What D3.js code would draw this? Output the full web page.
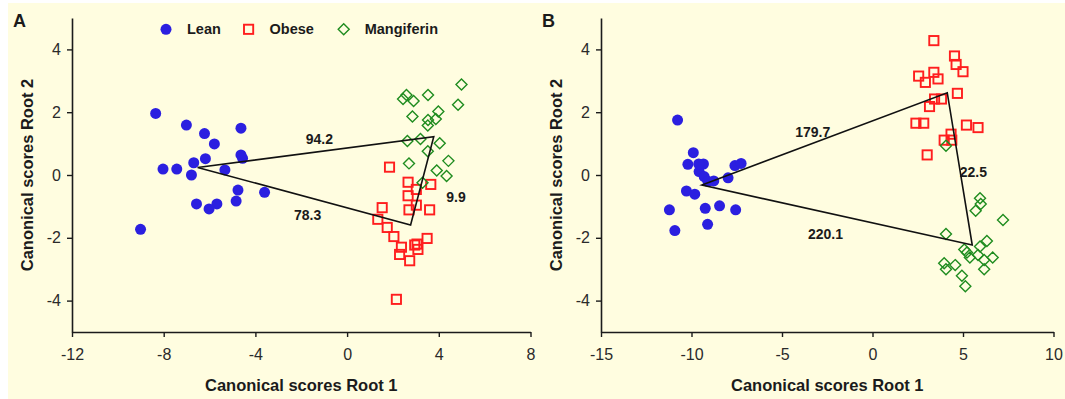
<!DOCTYPE html>
<html>
<head>
<meta charset="utf-8">
<script src="https://cdn.jsdelivr.net/npm/d3@7"></script>
<style>
  body { margin:0; background:#fff; }
  svg text { font-family:"Liberation Sans", Arial, sans-serif; }
</style>
</head>
<body>
<div id="graphique"></div>
<script>
// canonical scores: [root1, root2]
var leanA=[[-8.35,1.96],[-7.01,1.59],[-6.22,1.32],[-5.79,0.99],[-4.63,1.49],[-4.63,0.64],[-4.56,0.53],
  [-6.18,0.52],[-6.69,0.39],[-8.03,0.19],[-7.43,0.19],[-6.79,0.0],[-5.33,0.16],[-4.76,-0.48],[-3.60,-0.55],
  [-4.84,-0.83],[-6.57,-0.92],[-5.68,-0.92],[-6.02,-1.08],[-9.01,-1.73]];
var obeseA=[[1.85,0.25],[2.66,-0.23],[3.65,-0.30],[3.02,-0.46],[2.66,-0.66],[3.02,-0.96],[2.70,-1.11],
  [3.60,-1.11],[1.53,-1.04],[1.34,-1.41],[1.75,-1.67],[2.04,-1.96],[2.37,-2.30],[2.29,-2.53],[2.73,-2.73],
  [2.95,-2.23],[3.09,-2.37],[3.49,-2.02],[2.15,-3.96],[3.05,-2.20]];
var mangA=[[4.99,2.88],[4.84,2.24],[2.59,2.55],[2.44,2.42],[2.90,2.36],[3.53,2.55],[2.85,1.86],[3.98,2.02],
  [3.53,1.75],[3.87,1.78],[3.52,1.58],[2.63,1.08],[3.20,1.15],[4.04,1.01],[3.52,0.76],[4.42,0.45],
  [2.70,0.37],[3.91,0.14],[4.34,-0.03],[3.29,-0.25]];
var centA=[[-6.52,0.24],[2.77,-1.59],[3.78,1.22]];   // lean, obese, mangiferin
var distA=["94.2","78.3","9.9"];
var distPosA=[[-1.21,1.15],[-1.72,-1.27],[4.75,-0.69]];

var leanB=[[-10.77,1.75],[-9.90,0.71],[-10.20,0.34],[-9.34,0.35],[-9.58,0.11],[-9.30,-0.05],[-8.77,-0.19],
  [-7.98,-0.09],[-7.60,0.30],[-7.26,0.37],[-10.28,-0.51],[-9.82,-0.61],[-11.22,-1.11],[-9.24,-1.06],
  [-8.45,-0.98],[-7.56,-1.11],[-9.11,-1.57],[-10.92,-1.77],[-9.60,0.35],[-9.10,-0.20]];
var obeseB=[[3.39,4.28],[4.53,3.79],[4.62,3.52],[5.00,3.29],[2.55,3.15],[3.39,3.27],[2.92,2.95],[3.62,3.06],
  [4.69,2.60],[3.43,2.42],[3.81,2.42],[3.15,2.18],[2.40,1.65],[2.83,1.65],[5.19,1.59],[5.83,1.51],
  [4.34,1.30],[3.96,1.11],[4.38,1.11],[3.02,0.64]];
var mangB=[[4.06,0.93],[5.94,-0.74],[5.98,-0.92],[5.70,-1.14],[7.21,-1.43],[4.06,-1.88],[6.32,-2.10],
  [5.94,-2.28],[5.07,-2.37],[5.38,-2.63],[5.83,-2.55],[6.17,-2.71],[6.64,-2.63],[4.57,-2.87],[3.96,-2.81],
  [4.06,-3.00],[6.17,-3.00],[4.94,-3.21],[5.13,-3.54],[5.22,-2.47]];
var centB=[[-9.42,-0.32],[4.13,2.62],[5.51,-2.23]];  // lean, obese, mangiferin
var distB=["179.7","22.5","220.1"];
var distPosB=[[-3.30,1.38],[5.57,0.11],[-2.60,-1.88]];

var xTicksA=[-12,-8,-4,0,4,8];
var xTicksB=[-15,-10,-5,0,5,10];
var yTicks=[-4,-2,0,2,4];
var groups=["Lean","Obese","Mangiferin"];

var width=1065, height=399;
var blue="#2b1fe0", red="#ff1e1e", green="#1f8c1f", ink="#1b1b1b";

var svg=d3.select("#graphique").append("svg")
    .attr("width",width).attr("height",height);
svg.append("rect").attr("x",8).attr("y",3)
    .attr("width",width-8).attr("height",height-3).attr("fill","#fffde0");

function diamond(s){
    return "M0,"+(-s)+" L"+s+",0 L0,"+s+" L"+(-s)+",0 Z";
}

function drawMarks(g,x,y,lean,obese,mang){
    g.selectAll(".lean").data(lean).enter().append("circle")
        .attr("cx",d=>x(d[0])).attr("cy",d=>y(d[1])).attr("r",5.5)
        .attr("fill",blue);
    g.selectAll(".obese").data(obese).enter().append("rect")
        .attr("x",d=>x(d[0])-4.6).attr("y",d=>y(d[1])-4.6)
        .attr("width",9.2).attr("height",9.2)
        .attr("fill","none").attr("stroke",red).attr("stroke-width",1.9);
    g.selectAll(".mang").data(mang).enter().append("path")
        .attr("transform",d=>"translate("+x(d[0])+","+y(d[1])+")")
        .attr("d",diamond(5.5))
        .attr("fill","none").attr("stroke",green).attr("stroke-width",1.4);
}

var plain=d=>String(d);   // hyphen minus like the original

function drawPanel(cfg){
    var x=d3.scaleLinear().domain(cfg.xDomain).range(cfg.xRange);
    var y=d3.scaleLinear().domain([-5,5]).range([332,18]);
    var g=svg.append("g");

    var xa=g.append("g").attr("transform","translate(0,"+y(-5)+")")
        .call(d3.axisBottom(x).tickValues(cfg.xTicks).tickFormat(plain)
            .tickSize(5).tickSizeOuter(0).tickPadding(12));
    var ya=g.append("g").attr("transform","translate("+x(cfg.xDomain[0])+",0)")
        .call(d3.axisLeft(y).tickValues(yTicks).tickFormat(plain)
            .tickSize(5).tickSizeOuter(0).tickPadding(6));
    [xa,ya].forEach(function(a){
        a.select(".domain").attr("stroke",ink).attr("stroke-width",1.6);
        a.selectAll(".tick line").attr("stroke",ink).attr("stroke-width",1.4);
        a.selectAll(".tick text").attr("fill","#2a2a2a").attr("font-size",16)
            .attr("font-family","'Liberation Sans', Arial, sans-serif");
    });

    g.append("text").attr("x",(cfg.xRange[0]+cfg.xRange[1])/2).attr("y",391)
        .attr("text-anchor","middle").attr("font-size",16.5).attr("font-weight","bold")
        .attr("fill",ink).text("Canonical scores Root 1");
    g.append("text")
        .attr("transform","translate("+(cfg.xRange[0]-39)+","+y(0)+") rotate(-90)")
        .attr("text-anchor","middle").attr("font-size",16.5).attr("font-weight","bold")
        .attr("fill",ink).text("Canonical scores Root 2");
    g.append("text").attr("x",cfg.xRange[0]-59).attr("y",27)
        .attr("font-size",18).attr("font-weight","bold").attr("fill",ink).text(cfg.label);

    drawMarks(g,x,y,cfg.lean,cfg.obese,cfg.mang);

    // triangle between group centroids
    g.append("path")
        .attr("d",d3.line().x(d=>x(d[0])).y(d=>y(d[1]))(cfg.cent)+"Z")
        .attr("fill","none").attr("stroke","#111").attr("stroke-width",1.6)
        .attr("stroke-linejoin","miter");
    g.selectAll(".dist").data(cfg.dist).enter().append("text")
        .attr("x",(d,i)=>x(cfg.distPos[i][0])).attr("y",(d,i)=>y(cfg.distPos[i][1])+5)
        .attr("text-anchor","middle").attr("font-size",14).attr("font-weight","bold")
        .attr("fill",ink).text(d=>d);
    return g;
}

drawPanel({label:"A",xDomain:[-12,8],xRange:[72,530.5],xTicks:xTicksA,
    lean:leanA,obese:obeseA,mang:mangA,cent:centA,dist:distA,distPos:distPosA});
drawPanel({label:"B",xDomain:[-15,10],xRange:[601,1053.5],xTicks:xTicksB,
    lean:leanB,obese:obeseB,mang:mangB,cent:centB,dist:distB,distPos:distPosB});

// legend (panel A only)
var legX=[166,248.6,343.7], legY=29.3;
var leg=svg.append("g");
leg.append("circle").attr("cx",legX[0]).attr("cy",legY).attr("r",5.5).attr("fill",blue);
leg.append("rect").attr("x",legX[1]-4.6).attr("y",legY-4.6).attr("width",9.2).attr("height",9.2)
    .attr("fill","none").attr("stroke",red).attr("stroke-width",1.9);
leg.append("path").attr("transform","translate("+legX[2]+","+legY+")").attr("d",diamond(5.5))
    .attr("fill","none").attr("stroke",green).attr("stroke-width",1.4);
leg.selectAll(".lab").data(groups).enter().append("text")
    .attr("x",(d,i)=>legX[i]+21).attr("y",legY+5)
    .attr("font-size",14.5).attr("font-weight","bold").attr("fill",ink).text(d=>d);
</script>
</body>
</html>
